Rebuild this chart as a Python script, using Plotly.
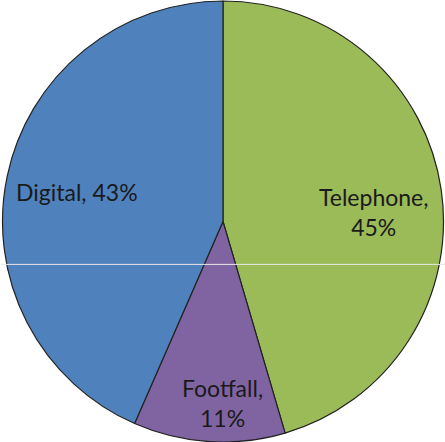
import plotly.graph_objects as go

labels = ["Telephone", "Footfall", "Digital"]
values = [45, 11, 43]
colors = ["#9BBB59", "#8064A2", "#4F81BD"]
label_text = ["Telephone,<br>45%", "Footfall,<br>11%", "Digital, 43%"]
label_x = [0.838, 0.499, 0.171]
label_y = [0.522, 0.088, 0.566]

fig = go.Figure(go.Pie(
    labels=labels, values=values, sort=False, direction="clockwise",
    rotation=0, textinfo="none", hoverinfo="label+percent",
    marker=dict(colors=colors, line=dict(color="#222222", width=1.2)),
    domain=dict(x=[0, 1], y=[0, 1]), showlegend=False,
))

for t, x, y in zip(label_text, label_x, label_y):
    fig.add_annotation(text=t, x=x, y=y, xref="paper", yref="paper",
                       xanchor="center", yanchor="middle",
                       showarrow=False, font=dict(family="Lato", size=23, color="#1a1a1a"),
                       align="center")

fig.add_shape(type="line", xref="paper", yref="paper", x0=0, x1=1,
              y0=1 - 264 / 442, y1=1 - 264 / 442,
              line=dict(color="#e8e8e8", width=1))

fig.update_layout(width=445, height=442, margin=dict(l=1, r=0, t=1, b=0),
                  paper_bgcolor="white", plot_bgcolor="white")
fig.write_html("out.html", config={"displayModeBar": False},
               post_script="document.body.style.margin='0';document.body.style.overflow='hidden';")
